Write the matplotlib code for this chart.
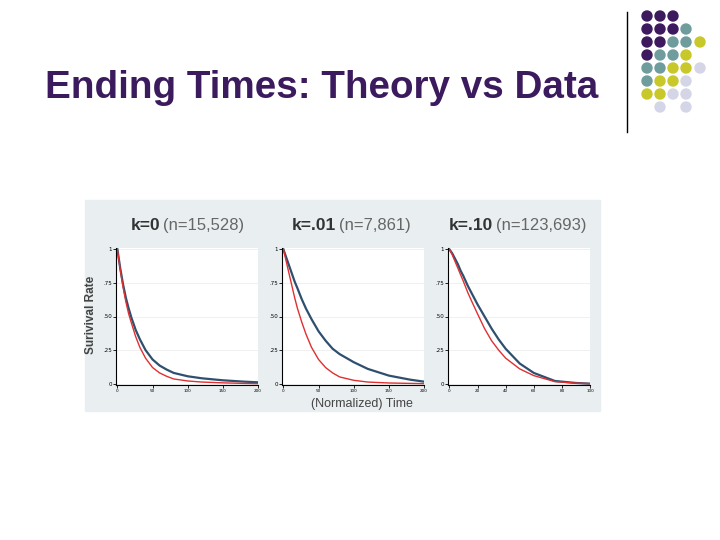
import matplotlib.pyplot as plt
from matplotlib.patches import Rectangle, Ellipse

# normalized time sample points (fraction of x range)
t = [0, 0.02, 0.04, 0.06, 0.08, 0.1, 0.13, 0.16, 0.2, 0.25, 0.3, 0.35, 0.4, 0.5, 0.6, 0.75, 0.9, 1.0]

titles_k = ['k=0', 'k=.01', 'k=.10']
titles_n = ['(n=15,528)', '(n=7,861)', '(n=123,693)']

data_blue = [
    [1, 0.86, 0.74, 0.64, 0.56, 0.49, 0.40, 0.33, 0.25, 0.18, 0.135, 0.105, 0.08, 0.055, 0.04, 0.025, 0.015, 0.01],
    [1, 0.94, 0.88, 0.82, 0.76, 0.71, 0.63, 0.56, 0.48, 0.39, 0.32, 0.26, 0.22, 0.16, 0.11, 0.06, 0.03, 0.015],
    [1, 0.97, 0.93, 0.89, 0.84, 0.80, 0.73, 0.67, 0.59, 0.50, 0.41, 0.33, 0.26, 0.15, 0.08, 0.02, 0.005, 0.0],
]
data_red = [
    [1, 0.85, 0.72, 0.61, 0.52, 0.45, 0.35, 0.27, 0.19, 0.12, 0.08, 0.055, 0.035, 0.02, 0.012, 0.006, 0.002, 0.0],
    [1, 0.91, 0.82, 0.73, 0.64, 0.56, 0.46, 0.37, 0.27, 0.18, 0.12, 0.08, 0.05, 0.025, 0.012, 0.005, 0.002, 0.0],
    [1, 0.96, 0.91, 0.86, 0.81, 0.76, 0.68, 0.61, 0.52, 0.41, 0.32, 0.25, 0.19, 0.11, 0.06, 0.015, 0.004, 0.0],
]
yticks = [0, 0.25, 0.5, 0.75, 1]
ytick_labels = ['0', '.25', '.50', '.75', '1']
xtick_labels = [['0', '50', '100', '150', '200'],
                ['0', '50', '100', '150', '200'],
                ['0', '20', '40', '60', '80', '100']]

W, H = 720, 540
fig = plt.figure(figsize=(7.2, 5.4), dpi=100)
fig.patch.set_facecolor('white')

def fx(x): return x / W
def fy(y): return 1 - y / H

fig.text(fx(45), fy(88), 'Ending Times: Theory vs Data', fontsize=27.8, fontweight='bold',
         color='#3b1a5e', family='Liberation Sans', va='center', ha='left')

# decorative dots and line
fig.add_artist(plt.Line2D([fx(627), fx(627)], [fy(12), fy(132)], color='black', lw=1))
P, T, Y, L = '#3d1a5e', '#6f9c9c', '#c8c82a', '#d5d5e8'
rows = [[P, P, P], [P, P, P, T], [P, P, T, T, Y], [P, T, T, Y], [T, T, Y, Y, L],
        [T, Y, Y, L], [Y, Y, L, L], [None, L, None, L]]
cx = [647, 660, 673, 686, 700]
for r, row in enumerate(rows):
    for c, col in enumerate(row):
        if col:
            fig.add_artist(Ellipse((fx(cx[c]), fy(16 + 13 * r)), 10 / W, 10 / H, color=col,
                                   transform=fig.transFigure))

# image background
fig.add_artist(Rectangle((fx(85), fy(411)), fx(600 - 85), (411 - 200) / H,
                         transform=fig.transFigure, color='#e9eff1', zorder=0))

lefts = [116, 282, 448]
k_right = [160, 336, 493]
for i in range(3):
    ax = fig.add_axes([fx(lefts[i]), fy(385), 142 / W, 137 / H])
    ax.plot(t, data_blue[i], color='#2f4f6f', lw=1.6)
    ax.plot(t, data_red[i], color='#e03030', lw=1.0)
    ax.set_xlim(-0.01, 1.0)
    ax.set_ylim(-0.01, 1.01)
    ax.set_yticks(yticks)
    ax.set_yticklabels(ytick_labels, fontsize=4)
    n = len(xtick_labels[i])
    ax.set_xticks([j / (n - 1) for j in range(n)])
    ax.set_xticklabels(xtick_labels[i], fontsize=3)
    ax.tick_params(length=2, width=0.6, pad=1)
    ax.grid(axis='y', color='#eeeeee', lw=0.6)
    for s in ['top', 'right']:
        ax.spines[s].set_visible(False)
    for s in ['left', 'bottom']:
        ax.spines[s].set_linewidth(0.8)
    fig.text(fx(k_right[i]), fy(225), titles_k[i], fontsize=12.5, fontweight='bold',
             color='#333333', ha='right', va='center', family='Liberation Sans')
    fig.text(fx(k_right[i] + 3), fy(225), titles_n[i], fontsize=12, color='#666666',
             ha='left', va='center', family='Liberation Sans', stretch='condensed')

fig.text(fx(91), fy(315), 'Surivival Rate', rotation=90, fontsize=8.5, fontweight='bold',
         color='#444444', ha='center', va='center', family='Liberation Sans')
fig.text(fx(362), fy(404), '(Normalized) Time', fontsize=9, color='#444444',
         ha='center', va='center', family='Liberation Sans')

fig.savefig('out.png', dpi=100)
